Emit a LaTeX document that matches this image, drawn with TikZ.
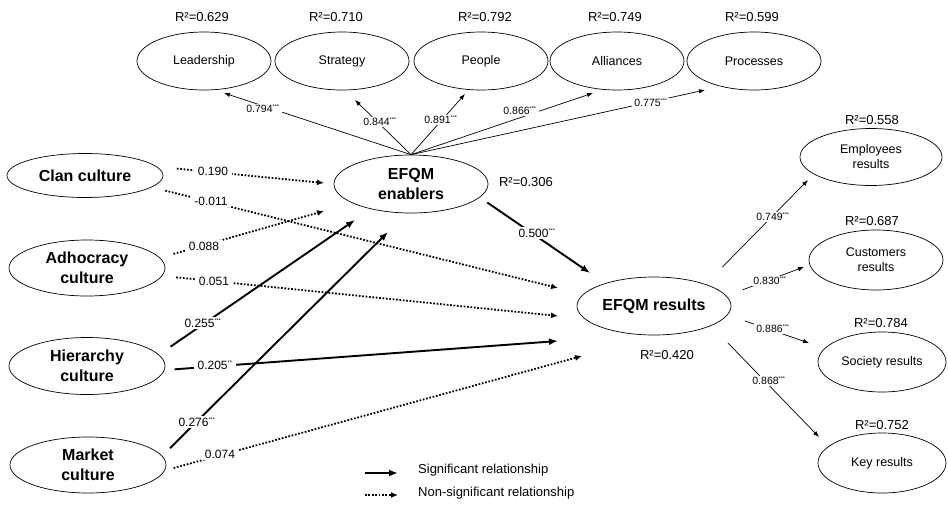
\documentclass[tikz,border=0pt]{standalone}
\usepackage{fontspec}
\setmainfont{Liberation Sans}
\usetikzlibrary{shapes.geometric,arrows.meta}
\newcommand{\stars}[1]{\textsuperscript{\fontsize{5.5}{5.5}\selectfont #1}}
\begin{document}
\begin{tikzpicture}[x=1pt,y=-1pt,
  oval/.style={draw,ellipse,line width=0.7pt,inner sep=0pt,align=center},
  topoval/.style={oval,minimum width=134pt,minimum height=58pt,font=\fontsize{12.5}{14}\selectfont},
  culture/.style={oval,minimum width=156pt,minimum height=56pt,font=\fontsize{16}{20}\selectfont\bfseries},
  mainoval/.style={oval,minimum width=154pt,minimum height=58pt,font=\fontsize{16}{20}\selectfont\bfseries},
  resoval/.style={oval,minimum height=58pt,font=\fontsize{12.5}{15}\selectfont},
  sigline/.style={line width=1.9pt,-{Latex[length=9pt,width=7pt]}},
  nsigline/.style={line width=1.8pt,dash pattern=on 1.7pt off 1.7pt,-{Latex[length=7pt,width=6pt]}},
  thinline/.style={line width=0.7pt,-{Latex[length=6pt,width=4.5pt]}},
  lab/.style={fill=white,inner xsep=3.5pt,inner ysep=1.5pt,font=\fontsize{12}{12}\selectfont},
  slab/.style={fill=white,inner xsep=2.5pt,inner ysep=1.2pt,font=\fontsize{10.5}{10.5}\selectfont},
  rsq/.style={inner sep=0pt,font=\fontsize{13}{13}\selectfont},
  legtext/.style={anchor=west,inner sep=0pt,font=\fontsize{13}{13}\selectfont}
]
\useasboundingbox (0,0) rectangle (948,504);

% top ellipses
\node[topoval] (lead) at (204,61) {Leadership};
\node[topoval] (strat) at (342,61) {Strategy};
\node[topoval] (peop) at (481,61) {People};
\node[topoval] (alli) at (617,61) {Alliances};
\node[topoval] (proc) at (754,61) {Processes};
\node[rsq] (rlead) at (202,17) {R²=0.629};
\node[rsq] (rstrat) at (336,17) {R²=0.710};
\node[rsq] (rpeop) at (485,17) {R²=0.792};
\node[rsq] (ralli) at (615,17) {R²=0.749};
\node[rsq] (rproc) at (752,17) {R²=0.599};

% central
\node[mainoval] (enab) at (411,184) {EFQM\\enablers};
\node[rsq] (renab) at (526,182) {R²=0.306};
\node[mainoval] (res) at (654,306) {EFQM results};
\node[rsq] (rres) at (667,355) {R²=0.420};

% cultures
\node[culture,minimum height=44pt] (clan) at (85,175.5) {Clan culture};
\node[culture] (adho) at (87,268) {Adhocracy\\culture};
\node[culture,minimum height=57pt] (hier) at (87,366) {Hierarchy\\culture};
\node[culture] (mark) at (88,465) {Market\\culture};

% results
\node[resoval,minimum width=142pt,minimum height=57pt] (emp) at (871,157) {Employees\\results};
\node[resoval,minimum width=134pt,minimum height=60pt] (cust) at (876,260) {Customers\\results};
\node[resoval,minimum width=128pt,minimum height=60pt] (soc) at (882,362) {Society results};
\node[resoval,minimum width=128pt,minimum height=60pt] (key) at (882,463) {Key results};
\node[rsq] (remp) at (872,120) {R²=0.558};
\node[rsq] (rcust) at (872,221) {R²=0.687};
\node[rsq] (rsoc) at (881,323) {R²=0.784};
\node[rsq] (rkey) at (882,425) {R²=0.752};

% arrow tip coordinates
\coordinate (tL) at (224,93);
\coordinate (tS) at (355,100);
\coordinate (tP) at (465,94);
\coordinate (tA) at (593,93);
\coordinate (tR) at (705,90);
\coordinate (cE) at (324,183);
\coordinate (cR) at (558,288);
\coordinate (aE) at (324,211);
\coordinate (aR) at (558,316);
\coordinate (hE) at (355,220);
\coordinate (hR) at (558,341);
\coordinate (mE) at (388,232);
\coordinate (mR) at (582,356);
\coordinate (eR) at (590,273);
\coordinate (rE) at (808,180);
\coordinate (rC) at (804,267);
\coordinate (rS) at (809,343);
\coordinate (rK) at (819,437);

% top connectors
\draw[thinline] (enab.north) -- (tL);
\draw[thinline] (enab.north) -- (tS);
\draw[thinline] (enab.north) -- (tP);
\draw[thinline] (enab.north) -- (tA);
\draw[thinline] (enab.north) -- (tR);

% culture connectors
\draw[nsigline,shorten <=20pt] (clan.7) -- (cE);
\draw[nsigline,shorten <=14pt] (clan.-10) -- (cR);
\draw[nsigline,shorten <=14pt] (adho.8) -- (aE);
\draw[nsigline,shorten <=14pt] (adho.-6) -- (aR);
\draw[sigline,shorten <=14pt] (hier.9) -- (hE);
\draw[sigline,shorten <=10pt] (hier.-3.5) -- (hR);
\draw[sigline,shorten <=11pt] (mark.7) -- (mE);
\draw[nsigline,shorten <=9pt] (mark.-4) -- (mR);
\draw[sigline,shorten <=9pt] (enab.-11) -- (eR);

% result connectors
\draw[thinline,shorten <=24pt] (res.23) -- (rE);
\draw[thinline,shorten <=17pt] (res.8) -- (rC);
\draw[thinline,shorten <=18pt] (res.-7) -- (rS);
\draw[thinline,shorten <=24pt] (res.-19) -- (rK);

% labels
\node[slab] (l1) at (263,109) {0.794\stars{***}};
\node[slab] (l2) at (380,122) {0.844\stars{***}};
\node[slab] (l3) at (441,120) {0.891\stars{***}};
\node[slab] (l4) at (520,111) {0.866\stars{***}};
\node[slab] (l5) at (651,103) {0.775\stars{***}};
\node[lab] (l6) at (213,171) {0.190};
\node[lab] (l7) at (211,201) {-0.011};
\node[lab] (l8) at (204,246) {0.088};
\node[lab] (l9) at (214,281) {0.051};
\node[lab] (l10) at (203,323) {0.255\stars{***}};
\node[lab] (l11) at (215,365) {0.205\stars{**}};
\node[lab] (l12) at (197,422) {0.276\stars{***}};
\node[lab] (l13) at (220,454) {0.074};
\node[lab] (l14) at (537,233) {0.500\stars{***}};
\node[slab] (l15) at (773,217) {0.749\stars{***}};
\node[slab] (l16) at (770,281) {0.830\stars{***}};
\node[slab] (l17) at (773,329) {0.886\stars{***}};
\node[slab] (l18) at (769,381) {0.868\stars{***}};

% legend
\coordinate (lg1a) at (365,473);
\coordinate (lg1b) at (398,473);
\coordinate (lg2a) at (365,495);
\coordinate (lg2b) at (398,495);
\draw[sigline] (lg1a) -- (lg1b);
\draw[nsigline] (lg2a) -- (lg2b);
\node[legtext] (lgt1) at (418,470) {Significant relationship};
\node[legtext] (lgt2) at (418,493) {Non-significant relationship};
\end{tikzpicture}
\end{document}
